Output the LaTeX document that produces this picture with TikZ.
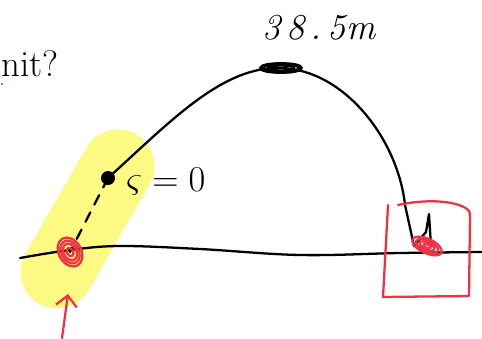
\documentclass[tikz,border=0pt]{standalone}
\usepackage{tikz}
\usetikzlibrary{positioning,arrows.meta}

\definecolor{hilite}{RGB}{252,250,130}
\definecolor{penred}{RGB}{240,50,70}

\tikzset{
    pen/.style={line width=1.3pt, line cap=round, line join=round},
    redpen/.style={pen, draw=penred},
    hand/.style={font=\itshape\huge, inner sep=0pt}
}

\begin{document}
\begin{tikzpicture}[x=0.02cm, y=-0.02cm]
    \useasboundingbox (0,0) rectangle (482,338);

    % Highlighter band
    \draw[hilite, line width=1.46cm, line cap=round] (57,272) -- (118,166);

    % Title fragment
    \node[anchor=base west, font=\fontsize{21}{24}\selectfont, inner sep=0pt] (title) at (1,76) {nit?};
    \fill[penred] (2,84) circle (1.2);

    % Key points
    \coordinate (launch) at (108,178);
    \coordinate (peak) at (281,68);
    \coordinate (drop) at (414,246);
    \coordinate (foot) at (70,252);

    % Ground
    \draw[pen] plot[smooth, tension=0.6] coordinates {(20,258) (70,250) (120,246) (200,249) (300,255) (400,253) (482,252)};

    % Trajectory
    \draw[pen] (launch) .. controls (170,122) and (222,66) .. (peak)
        .. controls (345,70) and (398,140) .. (405,205) -- (drop);
    \draw[pen] (414,246) -- (426,232) -- (429,214) -- (431,246);

    % Dashed drop to ground
    \draw[pen, dashed, dash pattern=on 6pt off 5pt] (launch) -- (foot);

    % Scribbled points
    \fill (launch) circle (7);
    \draw[pen, line width=2.2pt] (peak) ellipse (20 and 4);
    \draw[pen] (peak) ellipse (13 and 2.5);
    \foreach \r in {14,11,8,4} {
        \draw[redpen, rotate around={-60:(foot)}] (foot) ellipse ({\r*1.1} and {\r*0.8});
    }
    \foreach \r in {16,12,8,4} {
        \draw[redpen, rotate around={-25:(427,246)}] (427,246) ellipse ({\r} and {\r*0.45});
    }

    % Labels
    \node[hand, anchor=west] (height) at (262,28) {3\,8\,.\,5m};
    \node[hand, anchor=west] (start) at (126,182) {$\varsigma = 0$};

    % Red arrow and box
    \coordinate (tail) at (62,338);
    \coordinate (tip) at (68,294);
    \draw[redpen, -{Straight Barb[length=6pt, width=12pt]}] (tail) -- (tip);
    \draw[redpen] (388,205) -- (383,297) -- (469,296) -- (470,215)
        .. controls (472,205) and (440,196) .. (398,205);
\end{tikzpicture}
\end{document}
